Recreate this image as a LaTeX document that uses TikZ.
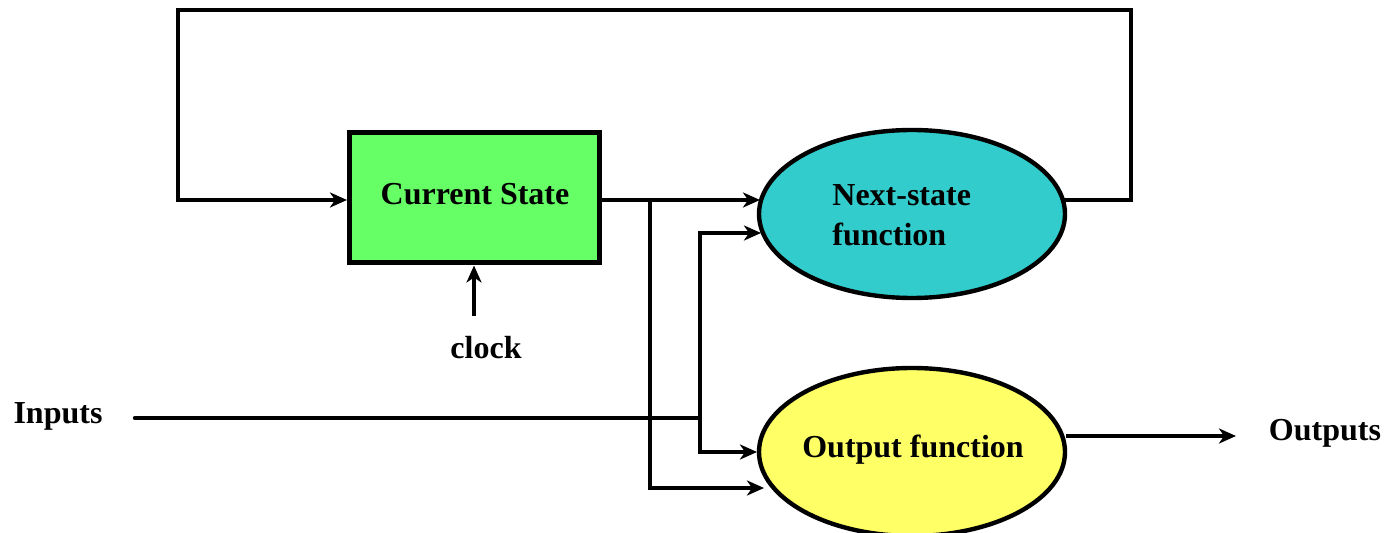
\documentclass[tikz,border=0pt]{standalone}
\usepackage{fontspec}
\setmainfont{Liberation Serif}
\usetikzlibrary{shapes.geometric,arrows.meta,calc}
\definecolor{csgreen}{HTML}{66FF66}
\definecolor{nscyan}{HTML}{33CCCC}
\definecolor{ofyellow}{HTML}{FFFF66}
\begin{document}
\begin{tikzpicture}[x=0.5pt,y=-0.5pt,
  lbl/.style={font=\fontsize{16}{20}\selectfont\bfseries, inner sep=0pt},
  wire/.style={line width=2.2pt, line join=miter},
  arr/.style={wire, -{Stealth[length=8.5pt,width=7.5pt,inset=2.5pt]}},
  csbox/.style={draw, line width=2.5pt, fill=csgreen, minimum width=125pt, minimum height=65pt, inner sep=0pt, lbl},
  fnell/.style={draw, ellipse, line width=2.2pt, minimum width=153pt, minimum height=84pt, inner sep=0pt, lbl}]
\useasboundingbox (0,0) rectangle (1387,533);
% nodes
\node[csbox] (cs) at (474,198) {};
\node[lbl] (cstext) at (475,194) {Current State};
\node[fnell, fill=nscyan] (ns) at (912,214) {};
\node[lbl, anchor=west, align=left] (nstext) at (832,215) {Next-state\\function};
\node[fnell, fill=ofyellow] (of) at (912,452) {};
\node[lbl] (oftext) at (913,450) {Output function};
\node[lbl] (clock) at (486,348) {clock};
\node[lbl] (inputs) at (58,416) {Inputs};
\node[lbl] (outputs) at (1325,433) {Outputs};
% coordinates
\coordinate (b1) at (650,200);
\coordinate (b2) at (700,418);
\coordinate (nsin1) at (760,200);
\coordinate (nsin2) at (761,233);
\coordinate (ofin1) at (757,452);
\coordinate (ofin2) at (764,488);
\coordinate (nsout) at (1063,200);
\coordinate (loopr) at (1131,200);
\coordinate (loopt) at (1131,10);
\coordinate (loopl) at (178,10);
\coordinate (loopb) at (178,200);
\coordinate (csin) at (347,200);
\coordinate (ofout) at (1066,436);
\coordinate (outend) at (1236,436);
\coordinate (inbeg) at (135,418);
\coordinate (clkbeg) at (474,316);
% connectors
\draw[arr] (nsout) -- (loopr) -- (loopt) -- (loopl) -- (loopb) -- (csin);
\draw[arr] (cs.east |- b1) -- (nsin1);
\draw[arr] (b1) |- (ofin2);
\draw[wire, line cap=round] (inbeg) -- (b2);
\draw[arr] (b2) |- (nsin2);
\draw[arr] (b2) |- (ofin1);
\draw[arr] (ofout) -- (outend);
\draw[arr] (clkbeg) -- (cs.south);
\end{tikzpicture}
\end{document}
